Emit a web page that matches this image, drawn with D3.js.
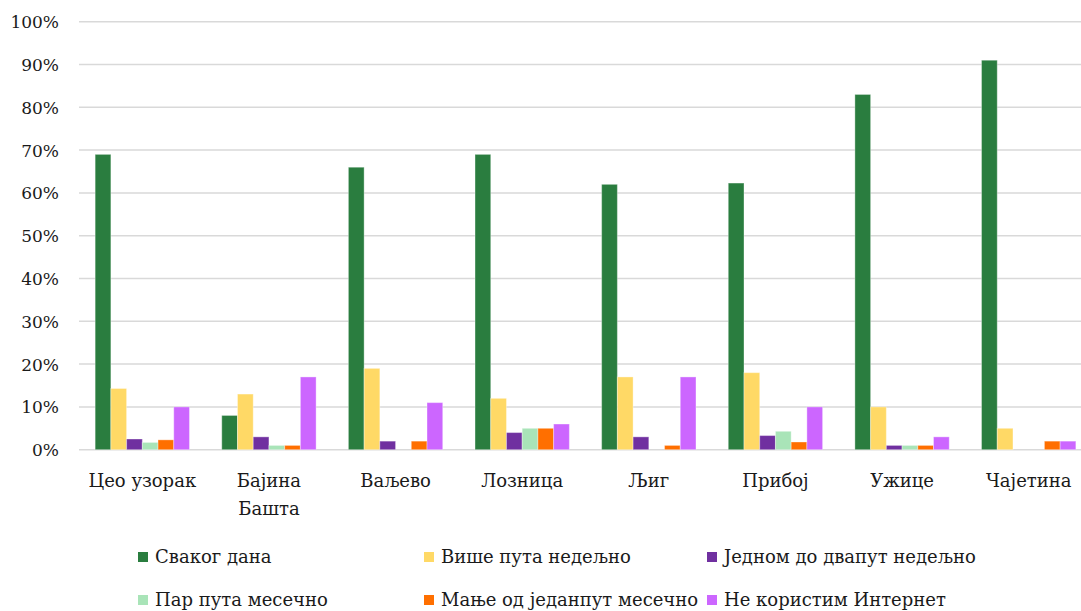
<!DOCTYPE html>
<html>
<head>
<meta charset="utf-8">
<script src="https://cdn.jsdelivr.net/npm/d3@7"></script>
<style>
  html, body { margin: 0; padding: 0; background: #fff; }
  svg { display: block; }
  text { font-family: "DejaVu Serif", serif; fill: #1a1a1a; }
</style>
</head>
<body>
<svg id="chart" width="1081" height="611"></svg>
<script>
const categories = [["Цео узорак"], ["Бајина", "Башта"], ["Ваљево"], ["Лозница"], ["Љиг"], ["Прибој"], ["Ужице"], ["Чајетина"]];
const seriesNames = ["Сваког дана", "Више пута недељно", "Једном до двапут недељно", "Пар пута месечно", "Мање од једанпут месечно", "Не користим Интернет"];
const seriesColors = ["#2a7d3f", "#ffd966", "#7030a0", "#a9e4b8", "#ff6f00", "#cc66ff"];
const svakogDana =     [69, 8, 66, 69, 62, 62.3, 83, 91];
const viseNedeljno =   [14.3, 13, 19, 12, 17, 18, 10, 5];
const jednomDvaput =   [2.5, 3, 2, 4, 3, 3.3, 1, 0];
const parMesecno =     [1.7, 1, 0, 5, 0, 4.3, 1, 0];
const manjeMesecno =   [2.3, 1, 2, 5, 1, 1.8, 1, 2];
const neKoristim =     [10, 17, 11, 6, 17, 10, 3, 2];
const yTicks = [0, 10, 20, 30, 40, 50, 60, 70, 80, 90, 100];

const series = [svakogDana, viseNedeljno, jednomDvaput, parMesecno, manjeMesecno, neKoristim];

const svg = d3.select("#chart");
const plotLeft = 79, plotRight = 1092, plotTop = 21.7, plotBottom = 449.7;

const x = d3.scaleBand().domain(d3.range(categories.length)).range([plotLeft, plotRight]).paddingInner(0.255).paddingOuter(0.1275);
const xs = d3.scaleBand().domain(d3.range(series.length)).range([0, x.bandwidth()]).padding(0);
const y = d3.scaleLinear().domain([0, 100]).range([plotBottom, plotTop]);

// gridlines
svg.append("g").selectAll("line").data(yTicks).join("line")
  .attr("x1", plotLeft).attr("x2", plotRight)
  .attr("y1", d => y(d)).attr("y2", d => y(d))
  .attr("stroke", "#d9d9d9").attr("stroke-width", 1.5);

// y axis labels
const yAxis = d3.axisLeft(y).tickValues(yTicks).tickFormat(d => d + "%").tickSize(0).tickPadding(0);
const yg = svg.append("g").attr("transform", `translate(59,0)`).call(yAxis);
yg.select(".domain").remove();
yg.selectAll("text").style("font-family", "'DejaVu Serif', serif").style("font-size", "17px").attr("fill", "#1a1a1a").attr("dy", "0.35em");

// bars
const groups = svg.append("g").selectAll("g").data(categories).join("g")
  .attr("transform", (d, i) => `translate(${x(i)},0)`);
groups.selectAll("rect").data((d, i) => series.map((s, k) => ({k, v: s[i]}))).join("rect")
  .attr("x", d => xs(d.k)).attr("width", xs.bandwidth())
  .attr("y", d => y(d.v)).attr("height", d => y(0) - y(d.v))
  .attr("fill", d => seriesColors[d.k])
  .attr("stroke", "#ffffff").attr("stroke-opacity", 0.35).attr("stroke-width", 1);

// x labels
const xl = svg.append("g").selectAll("text").data(categories).join("text")
  .attr("x", (d, i) => x(i) + x.bandwidth() / 2)
  .attr("y", 487)
  .attr("text-anchor", "middle")
  .style("font-size", "18px");
xl.selectAll("tspan").data(d => d).join("tspan")
  .attr("x", function() { return this.parentNode.getAttribute("x"); })
  .attr("dy", (d, j) => j === 0 ? 0 : 28)
  .text(d => d);

// legend
const legCols = [138, 424, 707];
const legRows = [557, 600];
const leg = svg.append("g").selectAll("g").data(seriesNames).join("g")
  .attr("transform", (d, i) => `translate(${legCols[i % 3]},${legRows[Math.floor(i / 3)]})`);
leg.append("rect").attr("x", 0).attr("y", -5).attr("width", 10).attr("height", 10)
  .attr("fill", (d, i) => seriesColors[i]);
leg.append("text").attr("x", 17).attr("y", 0).attr("dy", "0.35em")
  .style("font-size", "18px").text(d => d);
</script>
</body>
</html>
